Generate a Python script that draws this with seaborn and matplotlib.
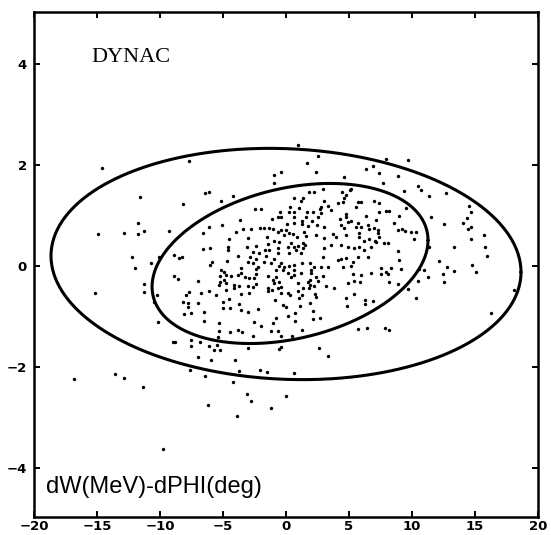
import numpy as np
import pandas as pd
import matplotlib
matplotlib.use("Agg")
import matplotlib.pyplot as plt
import seaborn as sns

# ---------------- data (dPHI in deg, dW in MeV) ----------------
dphi_top = [-14.6, -7.7, -11.6, 0.95, 2.54, 1.67, 2.38, 7.94, 9.69, 6.35, 6.91, 7.38, 8.89, 4.6, 7.7,
            10.48, 10.7, 9.37, 11.35, 12.7, 5.16, -0.4]
dw_top = [1.94, 2.08, 1.37, 2.40, 2.18, 2.04, 1.86, 2.12, 2.10, 1.92, 1.98, 1.84, 1.78, 1.76, 1.64,
          1.58, 1.50, 1.49, 1.39, 1.45, 1.52, 1.86]

dphi_upleft = [-0.95, -0.95, -6.43, -6.11, -4.21, -8.18, -5.16, -2.46, -1.98, -3.65,
               -1.11, -0.64, -0.48, -11.27, -9.29, -6.59, -6.11, -5.08, -4.52, -3.97,
               -3.41, -2.78, -3.02, -2.06, -1.75, -1.35, -1.03, -0.64, -1.51, -0.95,
               -6.59, -6.03, -4.6, -4.6, -3.1, -2.38, -1.43, -0.64, -8.89, -8.49,
               -8.25, -10.08, -10.71, -3.81, -2.86, -2.14, -1.59, -0.95, -5.87, -6.03,
               -4.68, -3.02, -2.62, -2.22, -0.56, -8.89, -5.16, -5.24, -4.37, -3.57,
               -2.94, -2.54, -1.43, -0.79, -8.57, -3.25]
dw_upleft = [1.80, 1.64, 1.45, 1.47, 1.39, 1.23, 1.29, 1.13, 1.13, 0.91,
             0.93, 0.97, 1.07, 0.69, 0.69, 0.65, 0.77, 0.81, 0.53, 0.67,
             0.73, 0.73, 0.55, 0.75, 0.75, 0.75, 0.73, 0.67, 0.57, 0.50,
             0.34, 0.36, 0.38, 0.32, 0.38, 0.40, 0.44, 0.36, 0.22, 0.16,
             0.18, 0.18, 0.06, 0.20, 0.18, 0.26, 0.20, 0.14, 0.08, 0.02,
             0.10, 0.08, 0.06, -0.02, 0.0, -0.20, -0.08, -0.20, -0.20, -0.14,
             -0.24, -0.24, -0.20, -0.22, -0.26, -0.22]

dphi_upright = [1.83, 2.22, 2.94, 4.44, 4.76, 5.08, 4.6, 0.64, 1.35, 1.19,
                3.02, 4.13, 4.52, 5.71, 5.95, 5.56, 6.98, 7.38, 0.32, 0.24,
                0.64, 1.03, 1.67, 2.14, 2.7, 3.33, 3.57, 2.78, 4.76, 6.35,
                7.38, 7.94, 8.17, 8.97, 9.52, -0.4, 0.64, 1.27, 1.59, 2.06,
                2.54, 4.76, 4.92, 5.16, 7.14, 8.57, 0.08, 0.64, 1.27, 1.75,
                2.46, 3.02, 4.29, 4.37, 5.56, 5.95, 6.59, 7.3, 8.89, 9.21,
                9.44, 9.92, 10.32, -0.4, 0.0, 0.24, -0.16, 0.56, 0.87, 1.59,
                2.38, 3.02, 3.97, 4.76, 5.79, 5.79, 6.19, 6.59, 7.06, 7.38,
                7.14, 7.78, 8.1, 10.16, 0.4, 0.64, 0.95, 0.16, 1.51, 1.35,
                0.79, 1.19, 3.57, 4.37, 4.92, 5.4, 5.79, 6.75, 8.89, 11.35,
                2.94, 4.13, 4.37, 4.76, 5.32, 5.71, 6.51, 8.97, -0.4, -0.16,
                0.64, 1.27, 1.9, 2.22, 2.78, 3.33, 4.52, 5.16, 7.54, 7.94,
                8.33, 9.13, 10.56, 10.95, 0.16, 0.64, 1.19, 1.98, 2.38, 2.94,
                5.32, 5.95, 6.75, 7.54, 8.1, 11.27]
dw_upright = [1.47, 1.47, 1.52, 1.47, 1.41, 1.50, 1.35, 1.35, 1.35, 1.29,
              1.29, 1.25, 1.27, 1.27, 1.27, 1.17, 1.29, 1.25, 1.17, 1.07,
              1.07, 1.15, 1.07, 1.07, 1.13, 1.19, 1.11, 1.05, 1.03, 0.99,
              1.07, 1.09, 1.09, 0.99, 1.15, 0.97, 0.97, 0.89, 0.97, 0.89,
              0.97, 0.97, 0.87, 0.89, 0.91, 0.85, 0.83, 0.85, 0.83, 0.79,
              0.81, 0.77, 0.93, 0.81, 0.77, 0.77, 0.73, 0.71, 0.71, 0.73,
              0.69, 0.67, 0.67, 0.71, 0.71, 0.65, 0.61, 0.63, 0.57, 0.59,
              0.61, 0.55, 0.57, 0.61, 0.65, 0.57, 0.50, 0.53, 0.50, 0.57,
              0.48, 0.46, 0.46, 0.53, 0.46, 0.38, 0.40, 0.38, 0.42, 0.36,
              0.32, 0.26, 0.42, 0.42, 0.38, 0.36, 0.38, 0.38, 0.30, 0.38,
              0.18, 0.12, 0.14, 0.16, 0.08, 0.18, 0.18, 0.12, 0.06, -0.02,
              0.02, 0.06, 0.06, -0.02, -0.02, -0.02, -0.02, 0.0, -0.04, -0.12,
              -0.04, -0.06, -0.06, -0.08, -0.14, -0.18, -0.14, -0.14, -0.22, -0.20,
              -0.16, -0.18, -0.14, -0.16, -0.16, -0.22]

dphi_lowleft = [-11.27, -11.27, -10.48, -10.24, -5.24, -4.76, -6.98, -7.7, -7.94, -6.75,
                -6.11, -5.56, -5.32, -4.76, -4.13, -3.73, -3.57, -2.94, -2.62, -2.38,
                -1.43, -1.11, -0.64, -0.95, -8.17, -7.78, -7.78, -6.98, -5.0, -4.52,
                -3.73, -5.0, -4.44, -3.57, -3.02, -2.22, -0.87, -8.1, -7.54, -6.51,
                -0.79, -10.16, -6.51, -5.32, -2.54, -1.98, -1.03, -5.32, -4.44, -3.81,
                -3.49, -1.19, -0.63, -5.4, -2.62, -8.97, -8.81, -7.54, -6.83, -7.54,
                -6.11, -5.71, -5.48, -5.24, -3.02, -0.56, -6.98, -5.95, -4.05, -7.62,
                -6.43, -3.73, -2.06, -1.51, -4.21, -11.35, -3.1, -2.78, 0.0, -6.19,
                -1.19, -3.89, -9.76]
dw_lowleft = [-0.36, -0.51, -0.71, -0.57, -0.32, -0.34, -0.30, -0.51, -0.57, -0.53,
              -0.50, -0.57, -0.38, -0.48, -0.44, -0.40, -0.55, -0.53, -0.42, -0.36,
              -0.50, -0.48, -0.44, -0.34, -0.71, -0.73, -0.81, -0.73, -0.71, -0.65,
              -0.75, -0.83, -0.83, -0.87, -0.91, -0.85, -0.67, -0.95, -0.93, -0.91,
              -1.03, -1.11, -1.09, -1.13, -1.11, -1.19, -1.13, -1.29, -1.31, -1.27,
              -1.31, -1.29, -1.29, -1.41, -1.39, -1.50, -1.50, -1.47, -1.50, -1.58,
              -1.58, -1.66, -1.56, -1.66, -1.62, -1.64, -1.80, -1.86, -1.86, -2.06,
              -2.18, -2.08, -2.06, -2.10, -2.30, -2.40, -2.53, -2.67, -2.57, -2.75,
              -2.81, -2.97, -3.62]

dphi_lowright = [2.54, 1.9, 1.9, 2.22, 1.83, 1.35, 0.95, 1.27, 0.16, -0.4,
                 0.32, 2.3, 2.38, 3.17, 3.81, 1.03, -0.24, 0.0, 1.11, 1.9,
                 0.71, 0.16, 2.14, 0.71, 2.14, 2.7, 1.27, -0.4, 0.48, 5.87,
                 5.4, 8.17, 8.89, 10.48, 9.68, 4.92, 5.4, 4.76, 4.84, 6.27,
                 6.27, 6.9, 10.32, 5.71, 6.43, 7.86, 8.17, -0.4, 2.62, 3.33, 0.63]
dw_lowright = [-0.30, -0.28, -0.38, -0.40, -0.44, -0.44, -0.50, -0.57, -0.53, -0.53,
               -0.57, -0.55, -0.61, -0.40, -0.44, -0.63, -0.77, -0.81, -0.79, -0.73,
               -0.93, -0.99, -0.89, -1.09, -1.05, -1.03, -1.27, -1.39, -1.39, -0.32,
               -0.30, -0.32, -0.36, -0.30, -0.46, -0.34, -0.55, -0.63, -0.79, -0.67,
               -0.75, -0.69, -0.63, -1.25, -1.23, -1.23, -1.27, -1.60, -1.62, -1.78, -2.12]

dphi_leftwing = [-11.75, -11.75, -12.86, -14.92, -12.22, -11.98, -15.16, -13.57, -12.86, -16.83]
dw_leftwing = [0.85, 0.63, 0.65, 0.63, 0.18, -0.04, -0.53, -2.14, -2.22, -2.24]

dphi_rightwing = [14.52, 14.68, 14.37, 14.05, 12.54, 14.44, 14.68, 11.51, 15.71, 14.68,
                  13.33, 15.79, 15.95, 12.14, 12.78, 13.33, 12.46, 12.54, 14.76, 15.08,
                  18.1, 16.27]
dw_rightwing = [1.19, 1.07, 0.95, 0.85, 0.83, 0.73, 0.77, 0.97, 0.61, 0.53,
                0.38, 0.38, 0.20, 0.10, -0.02, -0.10, -0.16, -0.32, 0.02, -0.12,
                -0.48, -0.93]

dphi_centre = [-2.62, -1.67, -1.35, -0.63, 0.24, -2.38, -1.75, -1.19, -0.24, 0.24,
               -4.92, -4.76, -4.92, -3.57, -3.81, -2.38, -2.38, -1.03, -0.79, -0.56,
               0.4, -4.13, -3.02, -1.43, -0.4, 0.95, -0.56,
               2.78, 4.6, 5.71, 6.51, 6.98, 7.3, 1.43, 3.73, 1.35, 3.02, 6.19, 0.63, 1.98, 1.75]
dw_centre = [0.28, 0.32, 0.32, 0.26, 0.26, 0.14, 0.08, 0.06, -0.08, 0.0,
             -0.12, -0.18, -0.28, -0.04, -0.18, -0.06, -0.16, -0.28, -0.08, -0.32,
             -0.22, -0.38, -0.40, -0.44, -0.42, -0.34, 0.48,
             1.17, 0.75, 0.85, 0.81, 0.75, 0.65, 0.67, 0.63, 0.46, 0.36, 0.32, -0.08, -0.08, -0.32]

# emittance ellipses: centre, half extents, correlation
ell_name = ["outer", "inner"]
ell_cx = [0.0, 0.32]
ell_cy = [0.04, 0.05]
ell_ax = [18.65, 10.95]
ell_ay = [2.29, 1.585]
ell_r = [-0.07, 0.29]

x_ticks = [-20, -15, -10, -5, 0, 5, 10, 15, 20]
y_ticks = [-4, -2, 0, 2, 4]
x_lim = (-20, 20)
y_lim = (-4.97, 5.03)

# ---------------- figure ----------------
sns.set_theme(style="white")
plt.rcParams["font.family"] = ["DejaVu Sans"]

fig = plt.figure(figsize=(5.51, 5.35), dpi=100)
ax = fig.add_axes([34 / 551, 1 - 517 / 535, 504 / 551, 505 / 535])

pts = pd.DataFrame({
    "dphi": dphi_top + dphi_upleft + dphi_upright + dphi_lowleft + dphi_lowright
            + dphi_leftwing + dphi_rightwing + dphi_centre,
    "dw": dw_top + dw_upleft + dw_upright + dw_lowleft + dw_lowright
          + dw_leftwing + dw_rightwing + dw_centre,
})

t = np.linspace(0, 2 * np.pi, 500)
frames = []
for name, cx, cy, a, b, r in zip(ell_name, ell_cx, ell_cy, ell_ax, ell_ay, ell_r):
    frames.append(pd.DataFrame({
        "dphi": cx + a * np.cos(t),
        "dw": cy + b * (r * np.cos(t) + np.sqrt(1 - r * r) * np.sin(t)),
        "ell": name,
    }))
ell_df = pd.concat(frames, ignore_index=True)

sns.lineplot(data=ell_df, x="dphi", y="dw", units="ell", estimator=None, sort=False,
             color="black", linewidth=2.2, ax=ax, legend=False)
sns.scatterplot(data=pts, x="dphi", y="dw", s=6, color="black", linewidth=0,
                ax=ax, legend=False)

ax.set_xlim(*x_lim)
ax.set_ylim(*y_lim)
ax.set_xticks(x_ticks)
ax.set_yticks(y_ticks)
ax.set_xticklabels([f"{v:d}".replace("-", "\u2212") for v in x_ticks], fontweight="bold", fontsize=9.5)
ax.set_yticklabels([f"{v:d}".replace("-", "\u2212") for v in y_ticks], fontweight="bold", fontsize=9.5)
ax.tick_params(axis="both", direction="in", length=4, width=1.4, color="black",
               top=True, right=True, bottom=True, left=True, labelcolor="black")
ax.tick_params(axis="x", pad=2)
ax.tick_params(axis="y", pad=5)
ax.set_xlabel("")
ax.set_ylabel("")
ax.grid(False)
for sp in ax.spines.values():
    sp.set_visible(True)
    sp.set_color("black")
    sp.set_linewidth(1.8)

ax.text(-12.3, 4.12, "DYNAC", family=["Liberation Serif", "DejaVu Serif"], fontsize=16,
        ha="center", va="center", color="black")
ax.text(-19.05, -4.50, "dW(MeV)-dPHI(deg)",
        family=["Liberation Sans Narrow", "Liberation Sans", "DejaVu Sans"],
        fontsize=17, ha="left", va="baseline", color="black")

fig.savefig("out.png", dpi=100)
